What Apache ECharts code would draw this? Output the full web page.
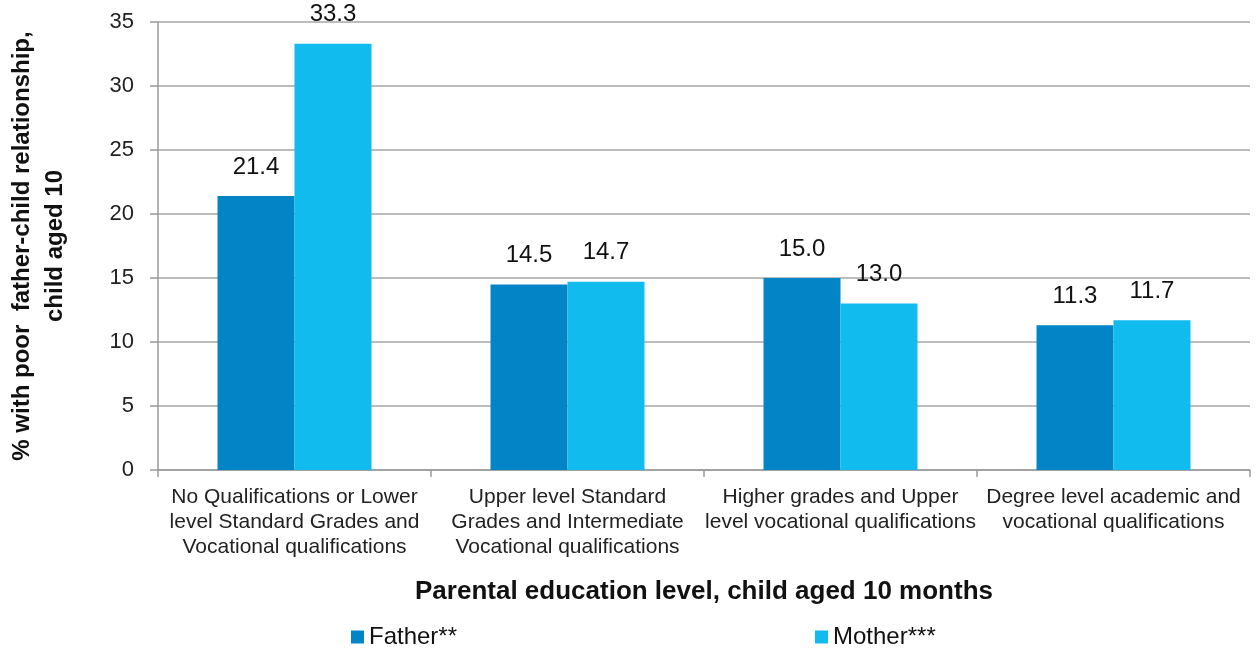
<!DOCTYPE html>
<html>
<head>
<meta charset="utf-8">
<script src="https://cdn.jsdelivr.net/npm/echarts@6/dist/echarts.min.js"></script>
<style>html,body{margin:0;padding:0;background:#fff}#c{width:1256px;height:651px}</style>
</head>
<body>
<div id="c"></div>
<script>
const categories = [
  "No Qualifications or Lower\nlevel Standard Grades and\nVocational qualifications",
  "Upper level Standard\nGrades and Intermediate\nVocational qualifications",
  "Higher grades and Upper\nlevel vocational qualifications",
  "Degree level academic and\nvocational qualifications"
];
const fatherValues = [21.4, 14.5, 15.0, 11.3];
const motherValues = [33.3, 14.7, 13.0, 11.7];
const seriesNames = ["Father**", "Mother***"];
const yAxisName = "% with poor  father-child relationship,\nchild aged 10";
const xAxisName = "Parental education level, child aged 10 months";

const font = "Liberation Sans, Arial, sans-serif";
const chart = echarts.init(document.getElementById('c'));
chart.setOption({
  animation: false,
  textStyle: { fontFamily: font },
  grid: { left: 158, right: 6, top: 22, bottom: 181, containLabel: false, outerBoundsMode: 'none' },
  legend: [
    { data: [seriesNames[0]], left: 346, top: 620, itemWidth: 13, itemHeight: 13, itemGap: 0, icon: 'rect',
      textStyle: { fontSize: 24, color: '#111', fontFamily: font } },
    { data: [seriesNames[1]], left: 810, top: 620, itemWidth: 13, itemHeight: 13, itemGap: 0, icon: 'rect',
      textStyle: { fontSize: 24, color: '#111', fontFamily: font } }
  ],
  xAxis: {
    type: 'category',
    data: categories,
    name: xAxisName,
    nameLocation: 'middle',
    nameGap: 109,
    nameTextStyle: { fontSize: 26, fontWeight: 'bold', color: '#111', fontFamily: font },
    axisLine: { lineStyle: { color: '#9a9a9a', width: 1.5 } },
    axisTick: { show: true, length: 7, lineStyle: { color: '#9a9a9a', width: 1.5 } },
    axisLabel: { fontSize: 21, color: '#222', lineHeight: 25, margin: 15, interval: 0, fontFamily: font }
  },
  yAxis: {
    type: 'value',
    min: 0, max: 35, interval: 5,
    name: yAxisName,
    nameLocation: 'middle',
    nameGap: 86,
    nameTruncate: { maxWidth: 1000 },
    nameTextStyle: { fontSize: 24, fontWeight: 'bold', color: '#111', lineHeight: 33, fontFamily: font,
      overflow: 'none', width: 1000 },
    axisLine: { show: true, lineStyle: { color: '#9a9a9a', width: 1.5 } },
    axisTick: { show: true, length: 8, lineStyle: { color: '#9a9a9a', width: 1.5 } },
    axisLabel: { fontSize: 22, color: '#222', margin: 24, fontFamily: font },
    splitLine: { lineStyle: { color: '#a6a6a6', width: 1.5 } }
  },
  series: [
    {
      name: seriesNames[0], type: 'bar', data: fatherValues,
      barGap: '0%', barCategoryGap: '43.6%',
      itemStyle: { color: '#0284C7' },
      label: { show: true, position: 'top', distance: 17, fontSize: 24, color: '#111', fontFamily: font,
        formatter: p => p.value.toFixed(1) }
    },
    {
      name: seriesNames[1], type: 'bar', data: motherValues,
      barGap: '0%', barCategoryGap: '43.6%',
      itemStyle: { color: '#12BBEE' },
      label: { show: true, position: 'top', distance: 17, fontSize: 24, color: '#111', fontFamily: font,
        formatter: p => p.value.toFixed(1) }
    }
  ]
});
</script>
</body>
</html>
